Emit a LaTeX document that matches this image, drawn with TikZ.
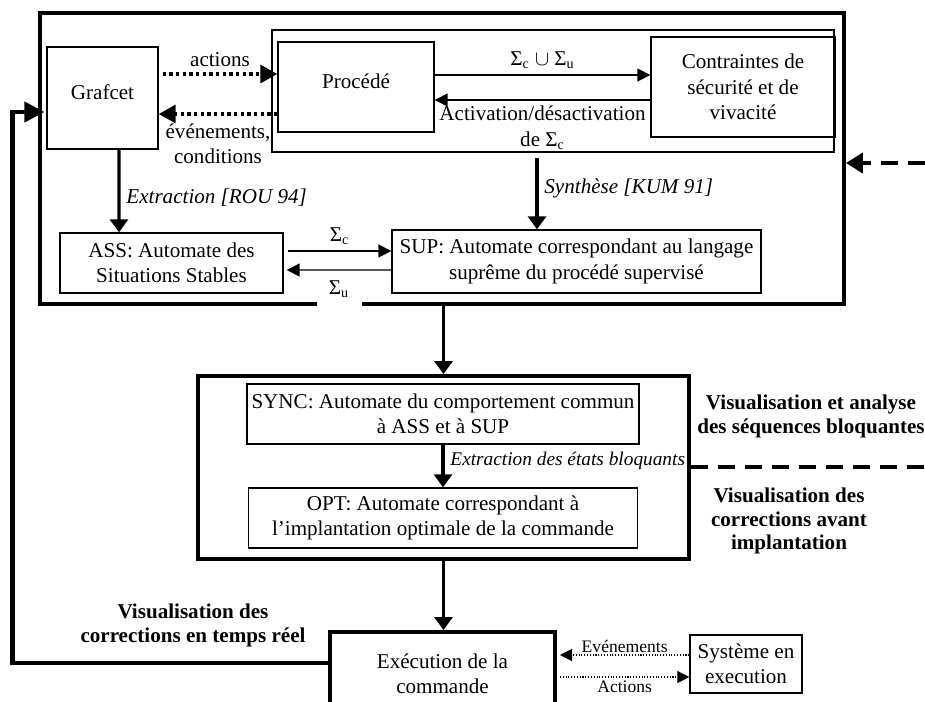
\documentclass[tikz,border=0pt]{standalone}
\usepackage{fontspec}
\setmainfont{Liberation Serif}
\usetikzlibrary{arrows.meta, positioning, calc}

\begin{document}
\begin{tikzpicture}[
            x=0.02cm, y=-0.02cm,
            font=\fontsize{12}{14.5}\selectfont,
            box/.style={draw, line width=0.8pt, align=center, inner sep=2pt},
            bigbox/.style={draw, line width=2.3pt, align=center},
            flow/.style={line width=1.8pt, -{Triangle[length=0.26cm, width=0.36cm]}},
            sig/.style={line width=0.8pt, -{Triangle[length=0.26cm, width=0.26cm]}},
            dots/.style={line width=1.8pt, dotted, -{Triangle[length=0.34cm, width=0.36cm]}},
            fine/.style={line width=0.6pt, densely dotted, -{Triangle[length=0.24cm, width=0.24cm]}},
            tag/.style={font=\fontsize{12}{14.5}\selectfont\itshape},
            vis/.style={font=\fontsize{12}{13.5}\selectfont\bfseries, align=center},
            dashline/.style={line width=2.3pt, dash pattern=on 0.34cm off 0.2cm}
        ]
            \useasboundingbox (0,0) rectangle (925,701);

            % Upper block
            \node[bigbox, minimum width=16.08cm, minimum height=5.82cm] (outer) at (442,158.5) {};
            \node[box, minimum width=11.24cm, minimum height=2.44cm] (plant) at (553,91) {};
            \node[box, minimum width=2.22cm, minimum height=2.04cm, text depth=0.24cm] (grafcet) at (102.5,98) {Grafcet};
            \node[box, minimum width=3.12cm, minimum height=1.8cm, text depth=0.24cm] (proc) at (356,87) {Procédé};
            \node[box, minimum width=3.68cm, minimum height=2cm] (contr) at (743,87) {Contraintes de\\sécurité et de\\vivacité};
            \node[box, minimum width=4.46cm, minimum height=1.2cm] (ass) at (171.5,263) {ASS: Automate des\\Situations Stables};
            \node[box, minimum width=7.38cm, minimum height=1.26cm] (sup) at (576.5,261.5) {SUP: Automate correspondant au langage\\suprême du procédé supervisé};

            % Middle block
            \node[bigbox, minimum width=9.82cm, minimum height=3.66cm] (mid) at (443.5,467.5) {};
            \node[box, minimum width=7.84cm, minimum height=1.2cm] (sync) at (443,414) {SYNC: Automate du comportement commun\\à ASS et à SUP};
            \node[box, minimum width=7.78cm, minimum height=1.2cm] (opt) at (443,518) {OPT: Automate correspondant à\\l’implantation optimale de la commande};

            % Execution
            \node[bigbox, minimum width=4.5cm, minimum height=1.68cm] (exec) at (442.5,674) {Exécution de la\\commande};
            \node[box, minimum width=2.24cm, minimum height=1.16cm] (sys) at (746,664) {Système en\\execution};

            % Side labels
            \node[vis] (seq) at (811,416.5) {Visualisation et analyse\\des séquences bloquantes};
            \node[vis] (before) at (789,521) {Visualisation des\\corrections avant\\implantation};
            \node[vis] (realtime) at (193,625.5) {Visualisation des\\corrections en temps réel};

            \coordinate (feed) at (925,163);
            \coordinate (rim) at (925,467);

            % Arrows
            \draw[dots] ($(grafcet.east)+(4,-24)$) -- ($(proc.west)+(0,-13)$) node[midway, above] {actions};
            \draw[dots] ($(proc.west)+(0,27)$) -- ($(grafcet.east)+(0,16)$) node[midway, below, align=center, inner sep=1pt, yshift=-0.13cm] {événements,\\conditions};
            \draw[sig] ($(proc.east)+(0,-12)$) -- ($(contr.west)+(0,-12)$) node[midway, above] {Σ\textsubscript{c} $\cup$ Σ\textsubscript{u}};
            \draw[sig] ($(contr.west)+(0,13)$) -- ($(proc.east)+(0,13)$) node[midway, below, align=center, inner sep=1pt, yshift=-0.07cm] {Activation/désactivation\\de Σ\textsubscript{c}};
            \draw[flow] ($(plant.south)+(-16,5)$) -- ($(sup.north)+(-39.5,0)$) node[midway, right, tag, yshift=0.1cm] {Synthèse [KUM 91]};
            \draw[flow] ($(grafcet.south)+(16.5,0)$) -- ($(ass.north)+(-52.5,0)$) node[midway, right, tag, yshift=-0.14cm] {Extraction [ROU 94]};
            \draw[sig] ($(ass.east)+(4,-12)$) -- ($(sup.west)+(0,-10.5)$) node[midway, above] {Σ\textsubscript{c}};
            \draw[sig] ($(sup.west)+(0,8.5)$) -- ($(ass.east)+(3,7)$) node[midway, below=1pt, fill=white, minimum width=0.9cm, minimum height=0.68cm] {Σ\textsubscript{u}};

            \draw[flow] (outer.south -| mid.north) -- (mid.north);
            \draw[flow] (sync) -- (opt) node[midway, right, tag, font=\fontsize{11}{13}\selectfont\itshape, yshift=0.1cm] {Extraction des états bloquants};
            \draw[flow] (mid.south) -- (mid.south |- exec.north);

            \draw[fine] ($(sys.west)+(0,-9)$) -- ($(exec.east)+(3,-19)$) node[midway, above, font=\fontsize{10}{12}\selectfont, inner sep=1pt] {Evénements};
            \draw[fine] ($(exec.east)+(3,3)$) -- ($(sys.west)+(0,13)$) node[midway, below, font=\fontsize{10}{12}\selectfont, inner sep=2pt] {Actions};

            % Feedback and dashed lines
            \draw[line width=2.6pt, -{Triangle[length=0.4cm, width=0.4cm]}] ($(exec.west)+(0,-11)$) -| ($(grafcet.west)+(-34,14)$) -- ($(grafcet.west)+(-2,14)$);
            \draw[dashline, -{Triangle[length=0.34cm, width=0.4cm]}] (feed) -- (outer.east |- feed);
            \draw[dashline] (mid.east |- rim) -- (rim);
        \end{tikzpicture}
\end{document}
